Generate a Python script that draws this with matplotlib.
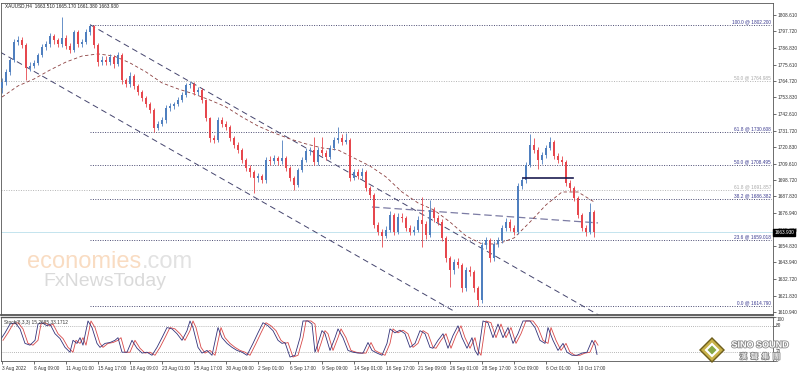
import numpy as np
import matplotlib
matplotlib.use('Agg')
import matplotlib.pyplot as plt
import matplotlib.transforms as mtransforms
import matplotlib.patheffects as pe
from matplotlib.patches import Polygon

W, H = 798.0, 372.0

title = 'XAUUSD,H4  1663.510 1665.170 1661.380 1663.930'
stoch_title = 'Stoch(8,3,3) 15.2685 33.1712'

# one candle every two H4 bars
bar_step = 2
first_open = 1760.0
closes = [
    1764.0, 1770.7, 1778.7, 1790.6, 1792.0, 1788.6, 1773.3, 1774.7, 1776.7, 1782.0,
    1787.3, 1789.3, 1794.6, 1792.0, 1789.3, 1793.3, 1788.0, 1785.3, 1797.3, 1789.3,
    1790.6, 1797.3, 1801.3, 1788.6, 1777.3, 1778.7, 1777.3, 1780.7, 1776.0, 1782.0,
    1765.4, 1762.7, 1768.0, 1761.4, 1757.4, 1753.4, 1749.4, 1745.4, 1733.4, 1736.1,
    1738.7, 1746.7, 1748.0, 1749.4, 1752.0, 1755.4, 1762.0, 1762.7, 1757.4, 1758.7,
    1752.0, 1740.1, 1726.7, 1725.4, 1738.7, 1736.1, 1734.1, 1726.7, 1722.1, 1718.8,
    1712.1, 1706.8, 1704.1, 1700.1, 1701.5, 1698.8, 1712.1, 1711.5, 1713.4, 1711.4,
    1713.4, 1706.8, 1700.1, 1695.5, 1705.4, 1712.1, 1718.1, 1718.8, 1710.8, 1718.8,
    1716.5, 1714.0, 1720.1, 1725.4, 1726.7, 1724.1, 1725.4, 1700.1, 1704.1, 1701.5,
    1704.1, 1693.5, 1688.8, 1668.8, 1664.2, 1661.5, 1665.5, 1675.5, 1664.2, 1674.2,
    1673.5, 1666.8, 1664.2, 1665.5, 1672.2, 1669.5, 1662.2, 1678.8, 1673.5, 1670.8,
    1660.2, 1646.9, 1638.9, 1644.2, 1642.2, 1626.9, 1638.9, 1637.6, 1626.9, 1618.9,
    1655.5, 1658.9, 1646.9, 1656.2, 1658.9, 1666.8, 1670.8, 1666.8, 1664.2, 1694.8,
    1698.8, 1708.8, 1722.1, 1718.8, 1712.1, 1715.4, 1720.1, 1724.1, 1714.8, 1712.1,
    1710.8, 1696.8, 1693.5, 1686.8, 1675.5, 1666.8, 1664.2, 1677.5, 1663.9]
highs = [
    1766.5, 1772.5, 1780.0, 1792.5, 1794.5, 1794.0, 1790.0, 1777.0, 1778.5, 1783.5,
    1789.0, 1791.5, 1796.5, 1796.0, 1793.5, 1807.3, 1795.0, 1790.0, 1798.6, 1798.5,
    1792.5, 1799.0, 1802.2, 1802.0, 1790.0, 1781.5, 1781.0, 1782.5, 1782.0, 1784.0,
    1783.0, 1767.0, 1770.7, 1769.5, 1763.0, 1759.0, 1755.0, 1751.0, 1746.5, 1738.0,
    1740.5, 1748.5, 1750.0, 1751.0, 1754.0, 1757.5, 1763.5, 1765.0, 1764.0, 1760.5,
    1760.0, 1753.0, 1741.0, 1728.5, 1740.7, 1740.5, 1738.0, 1735.5, 1728.0, 1724.0,
    1720.0, 1713.5, 1708.5, 1705.5, 1703.5, 1703.0, 1714.0, 1714.5, 1715.5, 1715.0,
    1725.4, 1715.0, 1708.0, 1701.5, 1707.0, 1714.0, 1720.0, 1721.0, 1727.4, 1720.5,
    1727.4, 1718.5, 1722.0, 1727.5, 1734.1, 1729.5, 1730.0, 1727.0, 1706.0, 1706.0,
    1706.5, 1705.5, 1695.0, 1690.0, 1671.0, 1666.0, 1668.0, 1678.0, 1677.0, 1676.5,
    1676.5, 1675.0, 1668.5, 1668.0, 1674.5, 1687.5, 1671.5, 1685.5, 1680.5, 1675.5,
    1672.5, 1661.5, 1648.5, 1646.5, 1647.0, 1643.5, 1641.0, 1641.5, 1639.0, 1628.5,
    1657.5, 1661.0, 1660.0, 1658.0, 1661.0, 1668.5, 1673.5, 1673.0, 1669.0, 1696.5,
    1700.5, 1710.5, 1729.5, 1727.0, 1720.5, 1717.5, 1722.0, 1727.5, 1725.5, 1717.0,
    1714.5, 1712.0, 1699.0, 1695.0, 1688.0, 1677.0, 1669.0, 1683.5, 1679.0]
lows = [
    1757.0, 1762.0, 1769.0, 1777.0, 1788.5, 1786.5, 1765.5, 1771.0, 1773.0, 1775.0,
    1780.5, 1785.5, 1787.5, 1789.5, 1787.0, 1787.5, 1786.0, 1783.5, 1784.0, 1787.5,
    1787.5, 1789.5, 1795.5, 1786.5, 1774.5, 1775.0, 1775.0, 1775.5, 1773.5, 1774.5,
    1763.0, 1760.5, 1761.0, 1759.5, 1755.5, 1751.5, 1747.5, 1743.5, 1730.7, 1732.0,
    1734.5, 1737.0, 1745.0, 1746.0, 1748.0, 1750.5, 1754.0, 1760.0, 1755.5, 1755.5,
    1750.0, 1738.0, 1724.0, 1723.5, 1724.0, 1734.0, 1732.0, 1724.5, 1720.0, 1716.5,
    1710.0, 1704.5, 1700.5, 1690.0, 1697.5, 1696.5, 1697.0, 1709.0, 1709.5, 1709.0,
    1709.5, 1704.5, 1698.0, 1692.0, 1694.0, 1704.0, 1710.5, 1715.5, 1708.5, 1709.0,
    1714.5, 1712.0, 1712.5, 1718.5, 1723.5, 1722.0, 1722.5, 1698.0, 1698.5, 1699.5,
    1699.5, 1691.5, 1686.5, 1666.5, 1662.0, 1654.5, 1660.0, 1664.0, 1662.0, 1662.5,
    1671.0, 1664.5, 1662.0, 1662.0, 1664.0, 1654.5, 1659.5, 1661.0, 1671.0, 1668.5,
    1658.0, 1644.5, 1627.6, 1636.5, 1640.0, 1624.5, 1625.0, 1635.0, 1624.5, 1614.8,
    1617.0, 1653.0, 1644.5, 1645.0, 1654.0, 1657.0, 1665.0, 1664.5, 1662.0, 1663.0,
    1692.5, 1697.0, 1707.5, 1716.5, 1706.0, 1709.5, 1713.5, 1718.5, 1712.5, 1710.0,
    1708.5, 1694.5, 1691.5, 1684.5, 1673.5, 1664.5, 1661.5, 1662.5, 1661.0]

# moving average, one value every 8 bars
ma_step = 8
ma_values = [1754.0, 1761.4, 1766.0, 1772.0, 1777.3, 1781.3, 1782.7, 1781.3, 1776.7, 1770.7,
             1763.4, 1759.4, 1756.0, 1752.0, 1747.4, 1740.7, 1734.7, 1730.1, 1726.1, 1722.8,
             1720.1, 1718.8, 1713.4, 1708.1, 1700.8, 1690.8, 1683.5, 1678.8, 1670.8, 1661.5,
             1656.2, 1656.2, 1660.2, 1670.8, 1682.2, 1690.8, 1690.8, 1684.2]

# stochastic main line (bar, value)
stoch_main = [
    (-1, 47), (1.5, 64), (4, 84), (6.5, 87), (9, 73), (11.5, 40), (14, 36), (16.5, 47),
    (18, 84), (20, 87), (22.5, 80), (24, 84), (26.5, 62), (29, 51), (31.5, 31), (34, 20),
    (35.5, 47), (37.5, 40), (39, 53), (40.5, 36), (43, 91), (45, 76), (47.5, 40), (49, 31),
    (51.5, 40), (54, 42), (56.5, 47), (58, 53), (60, 20), (62.5, 20), (65, 47), (67.5, 29),
    (70, 18), (72.5, 20), (75, 13), (77.5, 31), (80, 53), (82.5, 76), (85, 73), (87.5, 62),
    (90, 47), (92.5, 69), (94, 91), (95.5, 76), (98, 31), (100, 18), (102.5, 24), (105, 13),
    (108, 76), (110, 53), (112.5, 40), (115, 31), (117.5, 24), (120, 20), (122.5, 13),
    (125.5, 40), (128, 64), (130.5, 87), (133, 80), (135.5, 69), (138, 47), (140, 40),
    (141.5, 42), (144, 9), (146.5, 13), (149, 53), (150.5, 91), (153, 91), (155, 84),
    (156.5, 20), (158, 40), (160, 69), (161.5, 62), (164, 24), (166.5, 53), (168, 73),
    (170.5, 53), (173, 24), (175.5, 20), (178, 18), (180.5, 18), (183, 42), (185, 24),
    (187.5, 18), (190, 13), (192.5, 40), (194, 73), (196.5, 64), (199, 70), (201.5, 62),
    (204, 31), (206.5, 40), (209, 69), (211.5, 62), (214, 31), (215.5, 29), (218, 47),
    (220.5, 62), (223, 29), (225.5, 58), (228, 80), (230, 53), (232.5, 29), (235, 53),
    (236.5, 24), (238, 13), (240.5, 91), (243, 87), (245.5, 53), (248, 84), (250.5, 53),
    (253, 76), (255.5, 40), (258, 62), (260.5, 91), (264, 91), (266.5, 76), (269, 47),
    (271.5, 40), (273, 76), (275.5, 47), (278, 24), (280.5, 40), (282.5, 20), (285, 13),
    (287.5, 13), (290, 18), (292.5, 20), (295, 47), (296.5, 36), (297.5, 15)]
signal_lag = 1.5

price_ticks = [1808.61, 1797.72, 1786.83, 1775.61, 1764.72, 1753.83, 1742.61, 1731.72,
               1720.83, 1709.61, 1698.72, 1687.83, 1676.94, 1665.72, 1654.83, 1643.94,
               1632.72, 1621.83, 1610.94]
bid = 1663.93

fib_prices = [1802.2, 1730.608, 1708.495, 1686.382, 1659.018, 1614.79]
fib_labels = ['100.0 @ 1802.200', '61.8 @ 1730.608', '50.0 @ 1708.495',
              '38.2 @ 1686.382', '23.6 @ 1659.018', '0.0 @ 1614.790']
fib2_prices = [1764.985, 1691.857]
fib2_labels = ['50.0 @ 1764.985', '61.8 @ 1691.857']

date_labels = ['3 Aug 2022', '8 Aug 09:00', '11 Aug 01:00', '15 Aug 17:00', '18 Aug 09:00',
               '23 Aug 01:00', '25 Aug 17:00', '30 Aug 09:00', '2 Sep 01:00', '6 Sep 17:00',
               '9 Sep 09:00', '14 Sep 01:00', '16 Sep 17:00', '21 Sep 09:00', '26 Sep 01:00',
               '28 Sep 17:00', '3 Oct 09:00', '6 Oct 01:00', '10 Oct 17:00']
date_step = 16

# drawn objects (bar, price)
channel_lines = [((44, 1802.2), (300, 1607.6)), ((-1, 1784.0), (227, 1610.7))]
flat_line = ((185, 1680.8), (298, 1670.2))
neckline = ((260.5, 1700.1), (285.5, 1700.1))

BULL = '#4f7fbf'
BEAR = '#e6474d'
TXT = '#333333'
FONT = 'Liberation Sans'
FS = 3.4


def px(x0, y0, x1, y1):
    return [x0 / W, 1 - y1 / H, (x1 - x0) / W, (y1 - y0) / H]


fig = plt.figure(figsize=(W / 100, H / 100), dpi=100)
ax = fig.add_axes(px(1, 3, 773, 315))
ax2 = fig.add_axes(px(1, 317, 773, 361), sharex=ax)

xmin, xmax = -0.5, 385.5
ax.set_xlim(xmin, xmax)
ax.set_ylim(1608.9, 1816.6)

# watermarks
ax.text(27 / W, 1 - 262 / H, 'economies', transform=fig.transFigure, fontsize=17,
        family=FONT, color='#f9dcc2', va='center', ha='left', zorder=0)
ax.text(142 / W, 1 - 262 / H, '.com', transform=fig.transFigure, fontsize=17,
        family=FONT, color='#e2e2e2', va='center', ha='left', zorder=0)
ax.text(43 / W, 1 - 281 / H, 'FxNewsToday', transform=fig.transFigure, fontsize=14,
        family=FONT, color='#dadada', va='center', ha='left', zorder=0)

# bid line
ax.axhline(bid, color='#c4e4ee', lw=0.7, zorder=1)

# fibonacci levels
right_bar = 384.5
for p, lab in zip(fib_prices, fib_labels):
    ax.hlines(p, 44, right_bar, colors='#4a4a72', linestyles=(0, (1, 1.5)), lw=0.7, zorder=1)
    ax.text(right_bar, p + 0.4, lab, fontsize=FS, family=FONT, color='#3a3a90',
            ha='right', va='bottom', zorder=5)
for p, lab in zip(fib2_prices, fib2_labels):
    ax.hlines(p, xmin, right_bar, colors='#b4b4b4', linestyles=(0, (1, 1.5)), lw=0.7, zorder=1)
    ax.text(right_bar, p + 0.4, lab, fontsize=FS, family=FONT, color='#a8a8a8',
            ha='right', va='bottom', zorder=5)

# trend lines
for (b0, p0), (b1, p1) in channel_lines:
    ax.plot([b0, b1], [p0, p1], color='#45456e', lw=0.7, ls=(0, (6, 4)), zorder=2)
ax.plot([flat_line[0][0], flat_line[1][0]], [flat_line[0][1], flat_line[1][1]],
        color='#7c7ca4', lw=0.9, ls=(0, (6, 3)), zorder=2)
ax.plot([neckline[0][0], neckline[1][0]], [neckline[0][1], neckline[1][1]],
        color='#1c1c50', lw=1.2, zorder=4)

# moving average
ma_x = np.arange(len(ma_values)) * ma_step
ax.plot(ma_x, ma_values, color='#8c4040', lw=0.6, ls=(0, (4, 3)), zorder=2)

# candles
c = np.array(closes)
o = np.array([first_open] + closes[:-1])
idx = np.arange(len(c)) * bar_step
cols = np.where(c >= o, BULL, BEAR)
ax.vlines(idx, lows, highs, colors=cols, lw=0.6, zorder=3)
ax.bar(idx, np.maximum(np.abs(c - o), 0.4), bottom=np.minimum(o, c), width=1.3,
       color=cols, lw=0, zorder=3)

# price axis
ax.yaxis.tick_right()
ax.set_yticks(price_ticks)
ax.set_yticklabels(['%.3f' % t for t in price_ticks], family=FONT)
ax.tick_params(axis='y', labelsize=FS, length=2, width=0.5, pad=1.5, colors=TXT)
ax.tick_params(axis='x', bottom=False, labelbottom=False)

trans = mtransforms.blended_transform_factory(ax.transAxes, ax.transData)
ax.text(1.0015, bid, '%.3f' % bid, transform=trans, fontsize=FS, family=FONT, color='white',
        va='center', ha='left', zorder=10, clip_on=False,
        bbox=dict(boxstyle='square,pad=0.25', fc='black', ec='black'))

for a in (ax, ax2):
    for s in a.spines.values():
        s.set_color('#555555')
        s.set_linewidth(0.6)
ax.spines['bottom'].set_linewidth(1.3)
ax2.spines['top'].set_linewidth(1.0)

fig.text(5 / W, 1 - 6 / H, title, fontsize=FS, family=FONT, color='#222222', va='center')

# stochastic
ax2.set_ylim(0, 100)
sb = np.array([s[0] for s in stoch_main], dtype=float)
sv = np.array([s[1] for s in stoch_main], dtype=float)
ax2.axhline(80, color='#a0a0a0', lw=0.6, ls=(0, (1, 1.5)))
ax2.axhline(20, color='#a0a0a0', lw=0.6, ls=(0, (1, 1.5)))
ax2.plot(sb[:-1] + signal_lag, sv[:-1], color='#d84848', lw=0.6)
ax2.plot(sb, sv, color='#33337a', lw=0.6)
ax2.text(0.004, 0.93, stoch_title, transform=ax2.transAxes, fontsize=FS, family=FONT,
         color=TXT, va='top', ha='left')

ax2.yaxis.tick_right()
ax2.set_yticks([100, 80, 20, 0])
ax2.set_yticklabels([])
ax2.tick_params(axis='y', length=2, width=0.5, colors=TXT)
t2 = mtransforms.blended_transform_factory(ax2.transAxes, ax2.transData)
for v, pos in [(100, 95), (80, 80), (20, 22), (0, 2)]:
    ax2.text(1.004, pos, str(v), transform=t2, fontsize=FS, family=FONT, color=TXT,
             va='center', ha='left', clip_on=False)

date_bars = np.arange(len(date_labels)) * date_step
ax2.set_xticks(date_bars)
ax2.set_xticklabels(date_labels, ha='left', family=FONT)
ax2.tick_params(axis='x', labelsize=FS, length=2, width=0.5, pad=1.5, colors=TXT)
ax2.tick_params(axis='x', labelbottom=True)

# Sino Sound logo
def fpts(pts):
    return [(x / W, 1 - y / H) for x, y in pts]

cx, cy = 712, 350
for r, col in [(13, '#6e5e1c'), (11, '#c9b24a'), (7.5, '#ffffff')]:
    fig.patches.append(Polygon(fpts([(cx, cy - r), (cx + r, cy), (cx, cy + r), (cx - r, cy)]),
                               closed=True, transform=fig.transFigure, fc=col, ec='none',
                               zorder=20))
fig.patches.append(Polygon(fpts([(cx, cy - 4.5), (cx + 4.5, cy), (cx, cy + 4.5), (cx - 4.5, cy)]),
                           closed=True, transform=fig.transFigure, fc='#86a844', ec='none',
                           zorder=21))
stroke = [pe.withStroke(linewidth=1.2, foreground='#8a8a8a')]
fig.text(760 / W, 1 - 345 / H, 'SINO SOUND', fontsize=6.5, family=FONT, weight='bold',
         color='white', ha='center', va='center', path_effects=stroke, zorder=22)
fig.text(760 / W, 1 - 357 / H, '漢  聲  集  團', fontsize=5.5, family=['Noto Sans CJK TC', 'DejaVu Sans'],
         color='white', ha='center', va='center', path_effects=stroke, zorder=22)

fig.savefig('out.png', dpi=100, facecolor='white')
